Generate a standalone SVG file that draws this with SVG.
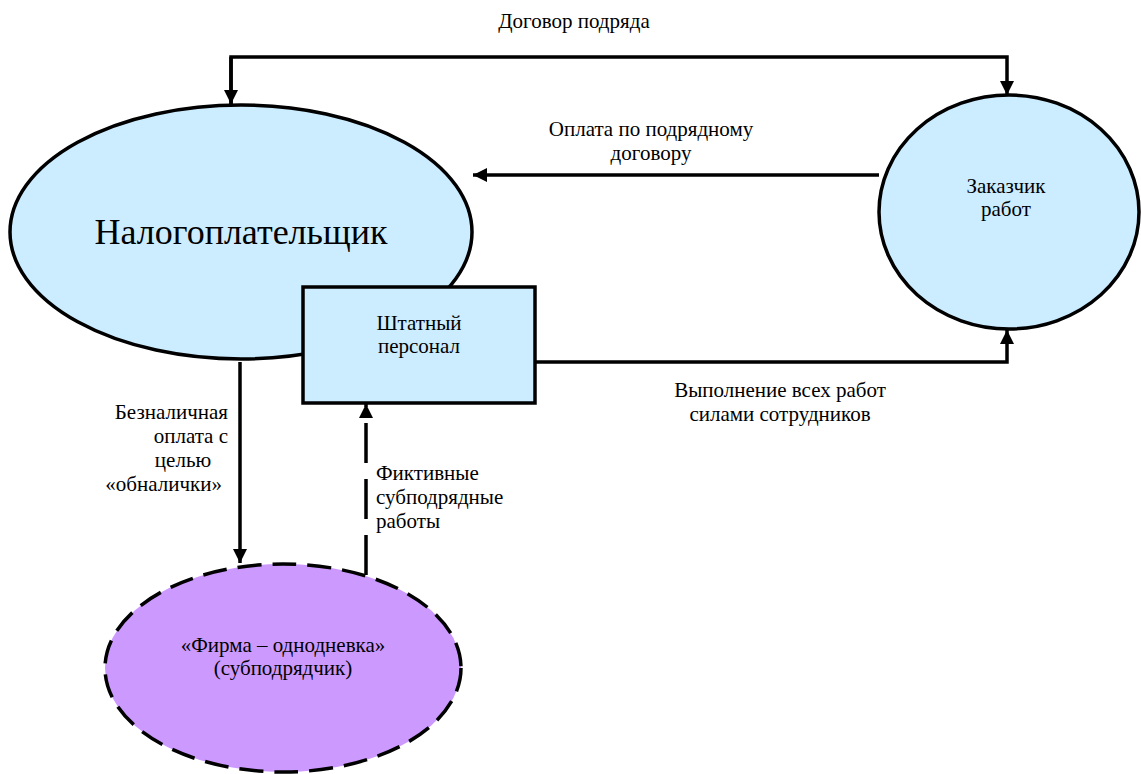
<svg xmlns="http://www.w3.org/2000/svg" width="1141" height="774" viewBox="0 0 1141 774" font-family="'Liberation Serif', Tinos, 'Times New Roman', serif">
  <style>
    .node { fill: #CCECFF; stroke: #000; stroke-width: 3.5; }
    .shell { fill: #CC99FF; stroke: #000; stroke-width: 3.5; stroke-dasharray: 24 11; }
    .wire { fill: none; stroke: #000; stroke-width: 3.5; }
    .dashed { stroke-dasharray: 40 16; }
    text { font-size: 21px; fill: #000; }
    .mid { text-anchor: middle; }
    .end { text-anchor: end; }
    .big { font-size: 36px; }
  </style>
  <defs>
    <marker id="arrow" viewBox="0 0 10 10" refX="10" refY="5" markerWidth="4" markerHeight="4" markerUnits="strokeWidth" orient="auto">
      <path d="M0,0 L10,5 L0,10 z" fill="#000"/>
    </marker>
  </defs>

  <rect width="1141" height="774" fill="#fff"/>

  <g id="connectors">
    <!-- contract: taxpayer <-> customer -->
    <path class="wire" d="M231,104 V57 H1007 V95" marker-end="url(#arrow)"/>
    <path class="wire" d="M231,57 V104" marker-end="url(#arrow)"/>
    <!-- payment from customer -->
    <path class="wire" d="M879,175 H473" marker-end="url(#arrow)"/>
    <!-- work performed by staff -->
    <path class="wire" d="M535,362 H1007 V330" marker-end="url(#arrow)"/>
    <!-- cash-out payment -->
    <path class="wire" d="M240,362 V563" marker-end="url(#arrow)"/>
    <!-- fictitious subcontract -->
    <path class="wire dashed" d="M366,575 V404" marker-end="url(#arrow)"/>
  </g>

  <g id="taxpayer">
    <ellipse class="node" cx="241" cy="232" rx="231" ry="127"/>
    <text class="mid big" x="241" y="244">Налогоплательщик</text>
  </g>

  <g id="customer">
    <ellipse class="node" cx="1009" cy="212" rx="130" ry="117"/>
    <text class="mid" x="1006" y="193">Заказчик</text>
    <text class="mid" x="1006" y="216">работ</text>
  </g>

  <g id="staff">
    <rect class="node" x="303" y="287" width="232" height="116"/>
    <text class="mid" x="419" y="330">Штатный</text>
    <text class="mid" x="419" y="353">персонал</text>
  </g>

  <g id="shell-company">
    <ellipse class="shell" cx="283" cy="668" rx="178" ry="104"/>
    <text class="mid" x="283" y="652">«Фирма – однодневка»</text>
    <text class="mid" x="283" y="675">(субподрядчик)</text>
  </g>

  <g id="labels">
    <text class="mid" x="574" y="28">Договор подряда</text>
    <text class="mid" x="651" y="136">Оплата по подрядному</text>
    <text class="mid" x="651" y="160">договору</text>
    <text class="mid" x="780" y="397">Выполнение всех работ</text>
    <text class="mid" x="780" y="421">силами сотрудников</text>
    <text class="end" x="228" y="419">Безналичная</text>
    <text class="end" x="228" y="443">оплата с</text>
    <text class="mid" x="183" y="467">целью</text>
    <text class="end" x="222" y="491">«обналички»</text>
    <text x="376" y="480">Фиктивные</text>
    <text x="376" y="504">субподрядные</text>
    <text x="376" y="528">работы</text>
  </g>
</svg>
